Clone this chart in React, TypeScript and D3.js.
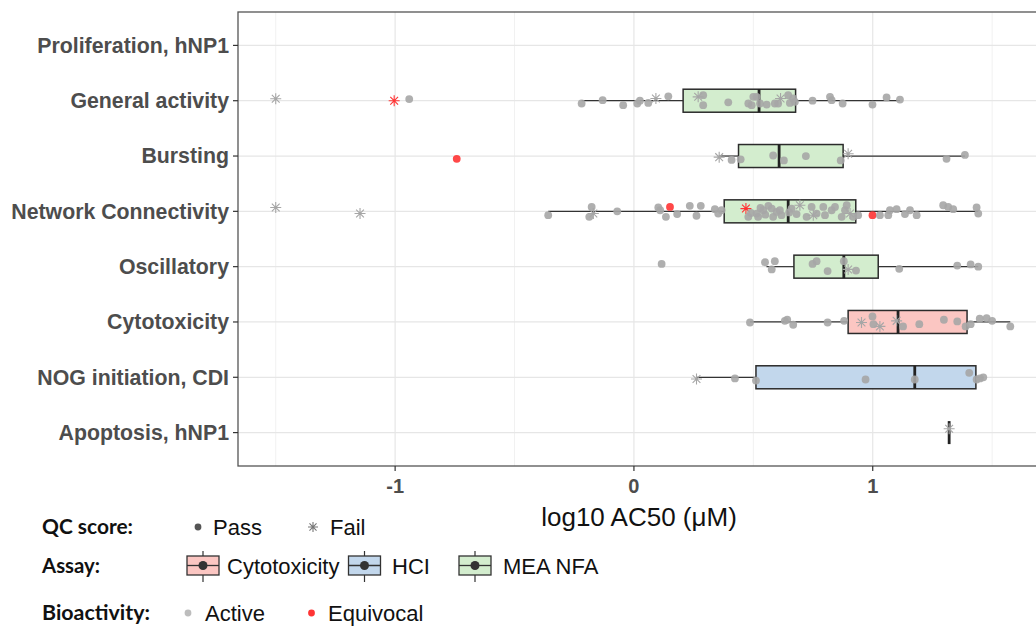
import React from 'react';
import * as d3 from 'd3';

// categories, top to bottom
const categories = [
  'Proliferation, hNP1',
  'General activity',
  'Bursting',
  'Network Connectivity',
  'Oscillatory',
  'Cytotoxicity',
  'NOG initiation, CDI',
  'Apoptosis, hNP1',
];

// box summaries (log10 AC50)
const boxCategory = ['General activity', 'Bursting', 'Network Connectivity', 'Oscillatory', 'Cytotoxicity', 'NOG initiation, CDI', 'Apoptosis, hNP1'];
const boxAssay = ['MEA NFA', 'MEA NFA', 'MEA NFA', 'MEA NFA', 'Cytotoxicity', 'HCI', 'HCI'];
const boxLow = [-0.219, 0.357, -0.359, 0.555, 0.486, 0.262, 1.32];
const boxQ1 = [0.206, 0.438, 0.378, 0.67, 0.897, 0.511, 1.32];
const boxMedian = [0.524, 0.608, 0.646, 0.879, 1.106, 1.176, 1.32];
const boxQ3 = [0.677, 0.876, 0.929, 1.023, 1.395, 1.432, 1.32];
const boxHigh = [1.114, 1.386, 1.442, 1.442, 1.576, 1.463, 1.32];

// points: [log10 AC50, vertical jitter (category units), QC score, bioactivity]
type Pt = [number, number, string, string];

const generalActivity: Pt[] = [
  [-1.5, -0.035, 'Fail', 'Active'], [-1.004, 0, 'Fail', 'Equivocal'], [-0.941, -0.03, 'Pass', 'Active'],
  [-0.219, 0.05, 'Pass', 'Active'], [-0.131, -0.01, 'Pass', 'Active'], [-0.045, 0.08, 'Pass', 'Active'],
  [0.014, 0.05, 'Pass', 'Active'], [0.025, 0, 'Pass', 'Active'], [0.06, 0.04, 'Pass', 'Active'],
  [0.092, -0.04, 'Fail', 'Active'], [0.144, -0.08, 'Pass', 'Active'], [0.269, -0.07, 'Fail', 'Active'],
  [0.29, -0.1, 'Pass', 'Active'], [0.29, 0.08, 'Pass', 'Active'], [0.395, 0.03, 'Pass', 'Active'],
  [0.479, 0.05, 'Pass', 'Active'], [0.493, 0.08, 'Pass', 'Active'], [0.5, -0.07, 'Pass', 'Active'],
  [0.514, -0.07, 'Pass', 'Active'], [0.528, 0.05, 'Pass', 'Active'], [0.556, 0.07, 'Pass', 'Active'],
  [0.59, 0.05, 'Pass', 'Active'], [0.604, 0.05, 'Pass', 'Active'], [0.614, -0.04, 'Fail', 'Active'],
  [0.646, -0.1, 'Pass', 'Active'], [0.653, 0.04, 'Pass', 'Active'], [0.667, -0.04, 'Pass', 'Active'],
  [0.674, 0.02, 'Pass', 'Active'], [0.748, 0, 'Pass', 'Active'], [0.821, -0.07, 'Pass', 'Active'],
  [0.828, -0.01, 'Pass', 'Active'], [0.874, 0.05, 'Pass', 'Active'], [0.999, 0.07, 'Pass', 'Active'],
  [1.058, -0.06, 'Pass', 'Active'], [1.114, -0.02, 'Pass', 'Active'],
];

const bursting: Pt[] = [
  [-0.742, 0.05, 'Pass', 'Equivocal'], [0.357, 0.02, 'Fail', 'Active'], [0.409, 0.07, 'Pass', 'Active'],
  [0.447, 0.06, 'Pass', 'Active'], [0.583, -0.01, 'Pass', 'Active'], [0.628, 0.08, 'Pass', 'Active'],
  [0.72, 0, 'Pass', 'Active'], [0.866, 0.08, 'Pass', 'Active'], [0.897, -0.04, 'Fail', 'Active'],
  [1.309, 0.05, 'Pass', 'Active'], [1.386, -0.02, 'Pass', 'Active'],
];

const networkConnectivity: Pt[] = [
  [-1.5, -0.07, 'Fail', 'Active'], [-1.147, 0.04, 'Fail', 'Active'], [-0.359, 0.07, 'Pass', 'Active'],
  [-0.187, 0.1, 'Pass', 'Active'], [-0.177, -0.08, 'Pass', 'Active'], [-0.17, 0.04, 'Fail', 'Active'],
  [-0.07, 0, 'Pass', 'Active'], [0.102, -0.07, 'Pass', 'Active'], [0.11, -0.02, 'Pass', 'Active'],
  [0.151, -0.08, 'Pass', 'Equivocal'], [0.134, 0.1, 'Pass', 'Active'], [0.181, 0.05, 'Pass', 'Active'],
  [0.234, -0.1, 'Pass', 'Active'], [0.262, 0.08, 'Pass', 'Active'], [0.28, -0.1, 'Pass', 'Active'],
  [0.339, -0.04, 'Pass', 'Active'], [0.353, 0.04, 'Pass', 'Active'], [0.367, -0.02, 'Pass', 'Active'],
  [0.469, -0.05, 'Fail', 'Equivocal'], [0.479, 0.1, 'Pass', 'Active'], [0.49, 0.03, 'Pass', 'Active'],
  [0.514, 0.04, 'Pass', 'Active'], [0.52, 0.1, 'Pass', 'Active'], [0.53, -0.06, 'Pass', 'Active'],
  [0.542, -0.02, 'Pass', 'Active'], [0.55, 0.06, 'Pass', 'Active'], [0.563, -0.1, 'Pass', 'Active'],
  [0.577, -0.05, 'Pass', 'Active'], [0.583, 0.1, 'Pass', 'Active'], [0.598, 0.01, 'Pass', 'Active'],
  [0.611, -0.02, 'Pass', 'Active'], [0.618, 0.07, 'Pass', 'Active'], [0.65, 0.02, 'Pass', 'Active'],
  [0.66, -0.05, 'Pass', 'Active'], [0.681, 0.05, 'Pass', 'Active'], [0.695, -0.11, 'Fail', 'Active'],
  [0.723, 0.1, 'Pass', 'Active'], [0.744, -0.08, 'Pass', 'Active'], [0.751, 0.07, 'Fail', 'Active'],
  [0.765, 0.04, 'Pass', 'Active'], [0.793, -0.08, 'Pass', 'Active'], [0.8, 0.07, 'Pass', 'Active'],
  [0.828, -0.02, 'Pass', 'Active'], [0.842, -0.08, 'Pass', 'Active'], [0.87, 0.1, 'Pass', 'Active'],
  [0.884, -0.02, 'Pass', 'Active'], [0.891, -0.11, 'Pass', 'Active'], [0.905, 0.04, 'Fail', 'Active'],
  [0.918, 0.1, 'Pass', 'Active'], [0.939, 0.07, 'Pass', 'Active'], [0.999, 0.07, 'Pass', 'Equivocal'],
  [1.03, 0.07, 'Pass', 'Active'], [1.065, 0.07, 'Pass', 'Active'], [1.072, -0.02, 'Pass', 'Active'],
  [1.1, -0.04, 'Pass', 'Active'], [1.135, 0.05, 'Pass', 'Active'], [1.156, -0.02, 'Pass', 'Active'],
  [1.184, 0.07, 'Pass', 'Active'], [1.295, -0.11, 'Pass', 'Active'], [1.316, -0.08, 'Pass', 'Active'],
  [1.337, -0.04, 'Pass', 'Active'], [1.435, -0.07, 'Pass', 'Active'], [1.442, 0.04, 'Pass', 'Active'],
];

const oscillatory: Pt[] = [
  [0.116, -0.05, 'Pass', 'Active'], [0.549, -0.08, 'Pass', 'Active'], [0.577, 0.05, 'Pass', 'Active'],
  [0.59, -0.1, 'Pass', 'Active'], [0.748, -0.05, 'Pass', 'Active'], [0.765, -0.1, 'Pass', 'Active'],
  [0.811, 0.08, 'Pass', 'Active'], [0.879, -0.1, 'Pass', 'Active'], [0.897, 0.05, 'Fail', 'Active'],
  [0.93, 0.07, 'Pass', 'Active'], [1.111, 0.04, 'Pass', 'Active'], [1.354, -0.02, 'Pass', 'Active'],
  [1.41, -0.04, 'Pass', 'Active'], [1.442, 0, 'Pass', 'Active'],
];

const cytotoxicity: Pt[] = [
  [0.486, 0.01, 'Pass', 'Active'], [0.632, -0.02, 'Pass', 'Active'], [0.642, -0.04, 'Pass', 'Active'],
  [0.667, 0.05, 'Pass', 'Active'], [0.811, 0.01, 'Pass', 'Active'], [0.88, -0.02, 'Pass', 'Active'],
  [0.953, 0.01, 'Fail', 'Active'], [0.999, -0.1, 'Pass', 'Active'], [1.003, 0.04, 'Pass', 'Active'],
  [1.03, 0.08, 'Fail', 'Active'], [1.1, -0.02, 'Fail', 'Active'], [1.127, 0.08, 'Pass', 'Active'],
  [1.195, 0.04, 'Pass', 'Active'], [1.298, -0.04, 'Pass', 'Active'], [1.354, -0.01, 'Pass', 'Active'],
  [1.389, 0.08, 'Pass', 'Active'], [1.41, 0.04, 'Pass', 'Active'], [1.448, -0.06, 'Pass', 'Active'],
  [1.477, -0.07, 'Pass', 'Active'], [1.5, -0.02, 'Pass', 'Active'], [1.576, 0.08, 'Pass', 'Active'],
];

const nogInitiation: Pt[] = [
  [0.262, 0.03, 'Fail', 'Active'], [0.423, 0.02, 'Pass', 'Active'], [0.511, 0.06, 'Pass', 'Active'],
  [0.97, 0.04, 'Pass', 'Active'], [1.176, 0.04, 'Pass', 'Active'], [1.404, -0.08, 'Pass', 'Active'],
  [1.435, 0.04, 'Pass', 'Active'], [1.449, 0.02, 'Pass', 'Active'], [1.463, 0, 'Pass', 'Active'],
];

const apoptosis: Pt[] = [[1.32, -0.07, 'Fail', 'Active']];

const xTicks = [-1, 0, 1];
const xMinor = [-1.5, -0.5, 0.5, 1.5];

const assayFill: Record<string, string> = {
  Cytotoxicity: '#FBC6C2',
  HCI: '#C2D7EC',
  'MEA NFA': '#D3EDCE',
};

function asteriskPath(cx: number, cy: number, r: number) {
  const d = r * 0.7071;
  return `M${cx - r},${cy}L${cx + r},${cy}M${cx},${cy - r}L${cx},${cy + r}` +
    `M${cx - d},${cy - d}L${cx + d},${cy + d}M${cx - d},${cy + d}L${cx + d},${cy - d}`;
}

export default function App() {
  const width = 1036;
  const height = 626;
  const panel = { left: 238, top: 12, bottom: 466 };

  const x = d3.scaleLinear().domain([-1.658, 1.8]).range([238, 238 + 3.458 * 238.8]);
  const y = d3.scalePoint<string>().domain(categories).range([45.4, 432.6]);
  const step = y.step();
  const boxH = 23;

  const allPoints: { cat: string; p: Pt }[] = [];
  const groups: [string, Pt[]][] = [
    ['General activity', generalActivity],
    ['Bursting', bursting],
    ['Network Connectivity', networkConnectivity],
    ['Oscillatory', oscillatory],
    ['Cytotoxicity', cytotoxicity],
    ['NOG initiation, CDI', nogInitiation],
    ['Apoptosis, hNP1', apoptosis],
  ];
  groups.forEach(([cat, pts]) => pts.forEach((p) => allPoints.push({ cat, p })));

  const grey = '#A6A6A6';
  const red = '#FF3434';

  return (
    <svg
      width={width}
      height={height}
      style={{ position: 'absolute', left: 0, top: 0, background: '#fff' }}
      fontFamily="'Liberation Sans', Arial, sans-serif"
    >
      {/* panel grid */}
      <rect x={panel.left} y={panel.top} width={900} height={panel.bottom - panel.top} fill="#fff" />
      {xMinor.map((v) => (
        <line key={'mn' + v} x1={x(v)} x2={x(v)} y1={panel.top} y2={panel.bottom} stroke="#F1F1F1" strokeWidth={1} />
      ))}
      {xTicks.map((v) => (
        <line key={'mj' + v} x1={x(v)} x2={x(v)} y1={panel.top} y2={panel.bottom} stroke="#E6E6E6" strokeWidth={1.2} />
      ))}
      {categories.map((c) => (
        <line key={'h' + c} x1={panel.left} x2={width} y1={y(c)} y2={y(c)} stroke="#E6E6E6" strokeWidth={1.2} />
      ))}

      {/* boxes */}
      {boxCategory.map((c, i) => {
        const cy = y(c) as number;
        return (
          <g key={'b' + c}>
            <line x1={x(boxLow[i])} x2={x(boxQ1[i])} y1={cy} y2={cy} stroke="#333" strokeWidth={1.2} />
            <line x1={x(boxQ3[i])} x2={x(boxHigh[i])} y1={cy} y2={cy} stroke="#333" strokeWidth={1.2} />
            <rect
              x={x(boxQ1[i])}
              y={cy - boxH / 2}
              width={Math.max(0, x(boxQ3[i]) - x(boxQ1[i]))}
              height={boxH}
              fill={assayFill[boxAssay[i]]}
              stroke="#2B2B2B"
              strokeWidth={1.5}
            />
            <line x1={x(boxMedian[i])} x2={x(boxMedian[i])} y1={cy - boxH / 2} y2={cy + boxH / 2} stroke="#222" strokeWidth={2.8} />
          </g>
        );
      })}

      {/* points */}
      {allPoints.map(({ cat, p }, i) => {
        const px = x(p[0]);
        const py = (y(cat) as number) + p[1] * step;
        const col = p[3] === 'Equivocal' ? red : grey;
        if (p[2] === 'Fail') {
          return <path key={'p' + i} d={asteriskPath(px, py, 5.5)} stroke={col} strokeWidth={1.1} fill="none" />;
        }
        return <circle key={'p' + i} cx={px} cy={py} r={3.9} fill={col} fillOpacity={0.9} />;
      })}

      {/* panel border */}
      <rect x={panel.left} y={panel.top} width={900} height={panel.bottom - panel.top} fill="none" stroke="#555" strokeWidth={1.3} />

      {/* y axis */}
      {categories.map((c) => (
        <g key={'yl' + c}>
          <line x1={panel.left - 5} x2={panel.left} y1={y(c)} y2={y(c)} stroke="#333" strokeWidth={1.2} />
          <text x={panel.left - 9} y={y(c)} dy="0.35em" textAnchor="end" fontSize={21.3} fontWeight="bold" fill="#4D4D4D">
            {c}
          </text>
        </g>
      ))}

      {/* x axis */}
      {xTicks.map((v) => (
        <g key={'xl' + v}>
          <line x1={x(v)} x2={x(v)} y1={panel.bottom} y2={panel.bottom + 5} stroke="#333" strokeWidth={1.2} />
          <text x={x(v)} y={panel.bottom + 20} dy="0.35em" textAnchor="middle" fontSize={20} fontWeight="bold" fill="#4D4D4D">
            {v}
          </text>
        </g>
      ))}
      <text x={639} y={517} dy="0.35em" textAnchor="middle" fontSize={26} fill="#111">
        log10 AC50 (μM)
      </text>

      {/* legends */}
      <g fontSize={22} fill="#111">
        <text x={42} y={527} dy="0.35em" fontFamily="Lato, 'Open Sans', sans-serif" fontWeight="bold" fontSize={20} textLength={91} lengthAdjust="spacingAndGlyphs">QC score:</text>
        <circle cx={198} cy={527} r={3.4} fill="#555" />
        <text x={213} y={527} dy="0.35em">Pass</text>
        <path d={asteriskPath(313, 527, 5)} stroke="#777" strokeWidth={1.1} fill="none" />
        <text x={330} y={527} dy="0.35em">Fail</text>

        <text x={42} y={566} dy="0.35em" fontFamily="Lato, 'Open Sans', sans-serif" fontWeight="bold" fontSize={20} textLength={58} lengthAdjust="spacingAndGlyphs">Assay:</text>
        {[
          ['Cytotoxicity', 187, 227],
          ['HCI', 348.5, 392],
          ['MEA NFA', 459, 503],
        ].map(([name, kx, tx]) => (
          <g key={'lg' + name}>
            <line x1={(kx as number) + 16} x2={(kx as number) + 16} y1={551} y2={582} stroke="#333" strokeWidth={1.2} />
            <rect x={kx as number} y={556} width={32} height={19} fill={assayFill[name as string]} stroke="#333" strokeWidth={1.3} />
            <line x1={kx as number} x2={(kx as number) + 32} y1={565.5} y2={565.5} stroke="#333" strokeWidth={1.3} />
            <circle cx={(kx as number) + 16} cy={565.5} r={4.5} fill="#333" />
            <text x={tx as number} y={566} dy="0.35em">{name}</text>
          </g>
        ))}

        <text x={42} y={613} dy="0.35em" fontFamily="Lato, 'Open Sans', sans-serif" fontWeight="bold" fontSize={20} textLength={108} lengthAdjust="spacingAndGlyphs">Bioactivity:</text>
        <circle cx={188} cy={613} r={3.4} fill="#BDBDBD" />
        <text x={205} y={613} dy="0.35em">Active</text>
        <circle cx={311.5} cy={613} r={3.4} fill={red} />
        <text x={328} y={613} dy="0.35em">Equivocal</text>
      </g>
    </svg>
  );
}
